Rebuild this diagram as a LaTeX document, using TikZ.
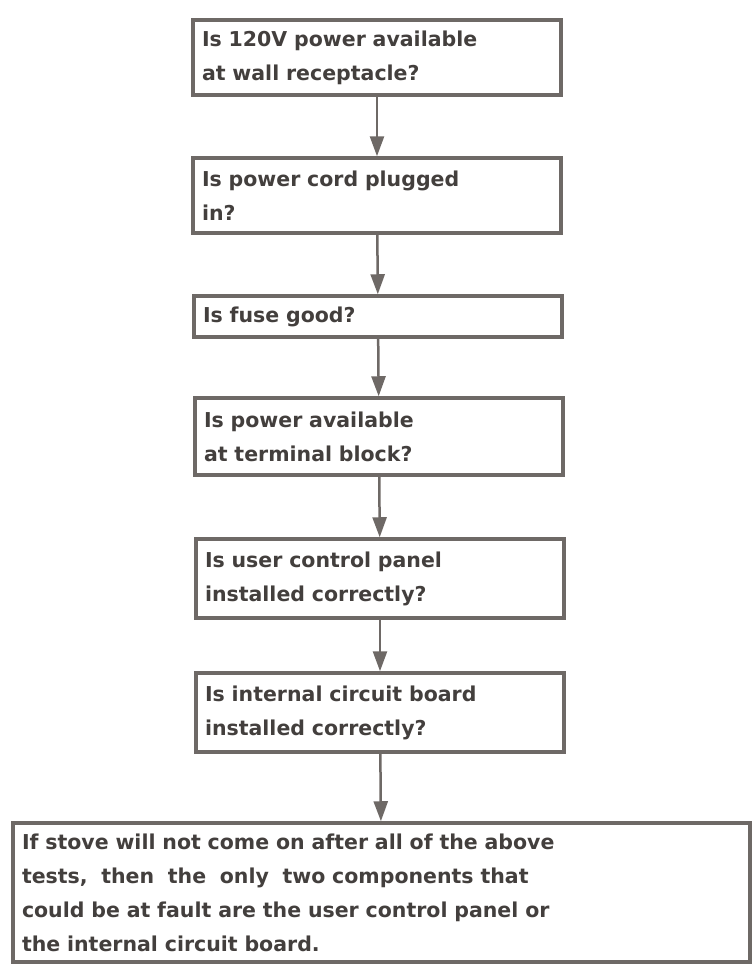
\documentclass[tikz,border=0pt]{standalone}
\usepackage{fontspec}
\setmainfont{DejaVu Sans}
\usetikzlibrary{arrows.meta}
\definecolor{inkgray}{HTML}{433F3D}
\definecolor{linegray}{HTML}{6E6966}
\begin{document}
\begin{tikzpicture}[x=1pt,y=-1pt]
	\tikzset{test box/.style={draw=linegray,line width=3.5pt,minimum width=368pt,text width=350pt,align=left,inner sep=0pt,text=inkgray,font=\bfseries\fontsize{20.5}{34}\selectfont,minimum height=#1}}
	\tikzset{flow/.style={draw=linegray,line width=2.5pt,-{Triangle[length=20pt,width=14pt]}}}
	\useasboundingbox (0,0) rectangle (752,972);
	\node [test box=75pt] (A) at (377,57.5) {Is 120V power available\\at wall receptacle?};
	\node [test box=75pt] (B) at (377,195.5) {Is power cord plugged\\in?};
	\node [test box=41pt] (C) at (378,316.5) {Is fuse good?};
	\node [test box=77pt] (D) at (379,436.5) {Is power available\\at terminal block?};
	\node [test box=79pt] (E) at (380,578.5) {Is user control panel\\installed correctly?};
	\node [test box=79pt] (F) at (380,712.5) {Is internal circuit board\\installed correctly?};
	\node [test box=139pt,minimum width=737pt,text width=719pt] (G) at (381.5,892.5) {If stove will not come on after all of the above\\tests, \ then \ the \ only \ two components that\\could be at fault are the user control panel or\\the internal circuit board.};
	\draw [flow] (A) -- (B);
	\draw [flow] (B) -- (C);
	\draw [flow] (C) -- (D);
	\draw [flow] (D) -- (E);
	\draw [flow] (E) -- (F);
	\draw [flow] (F) -- (G);
\end{tikzpicture}
\end{document}
